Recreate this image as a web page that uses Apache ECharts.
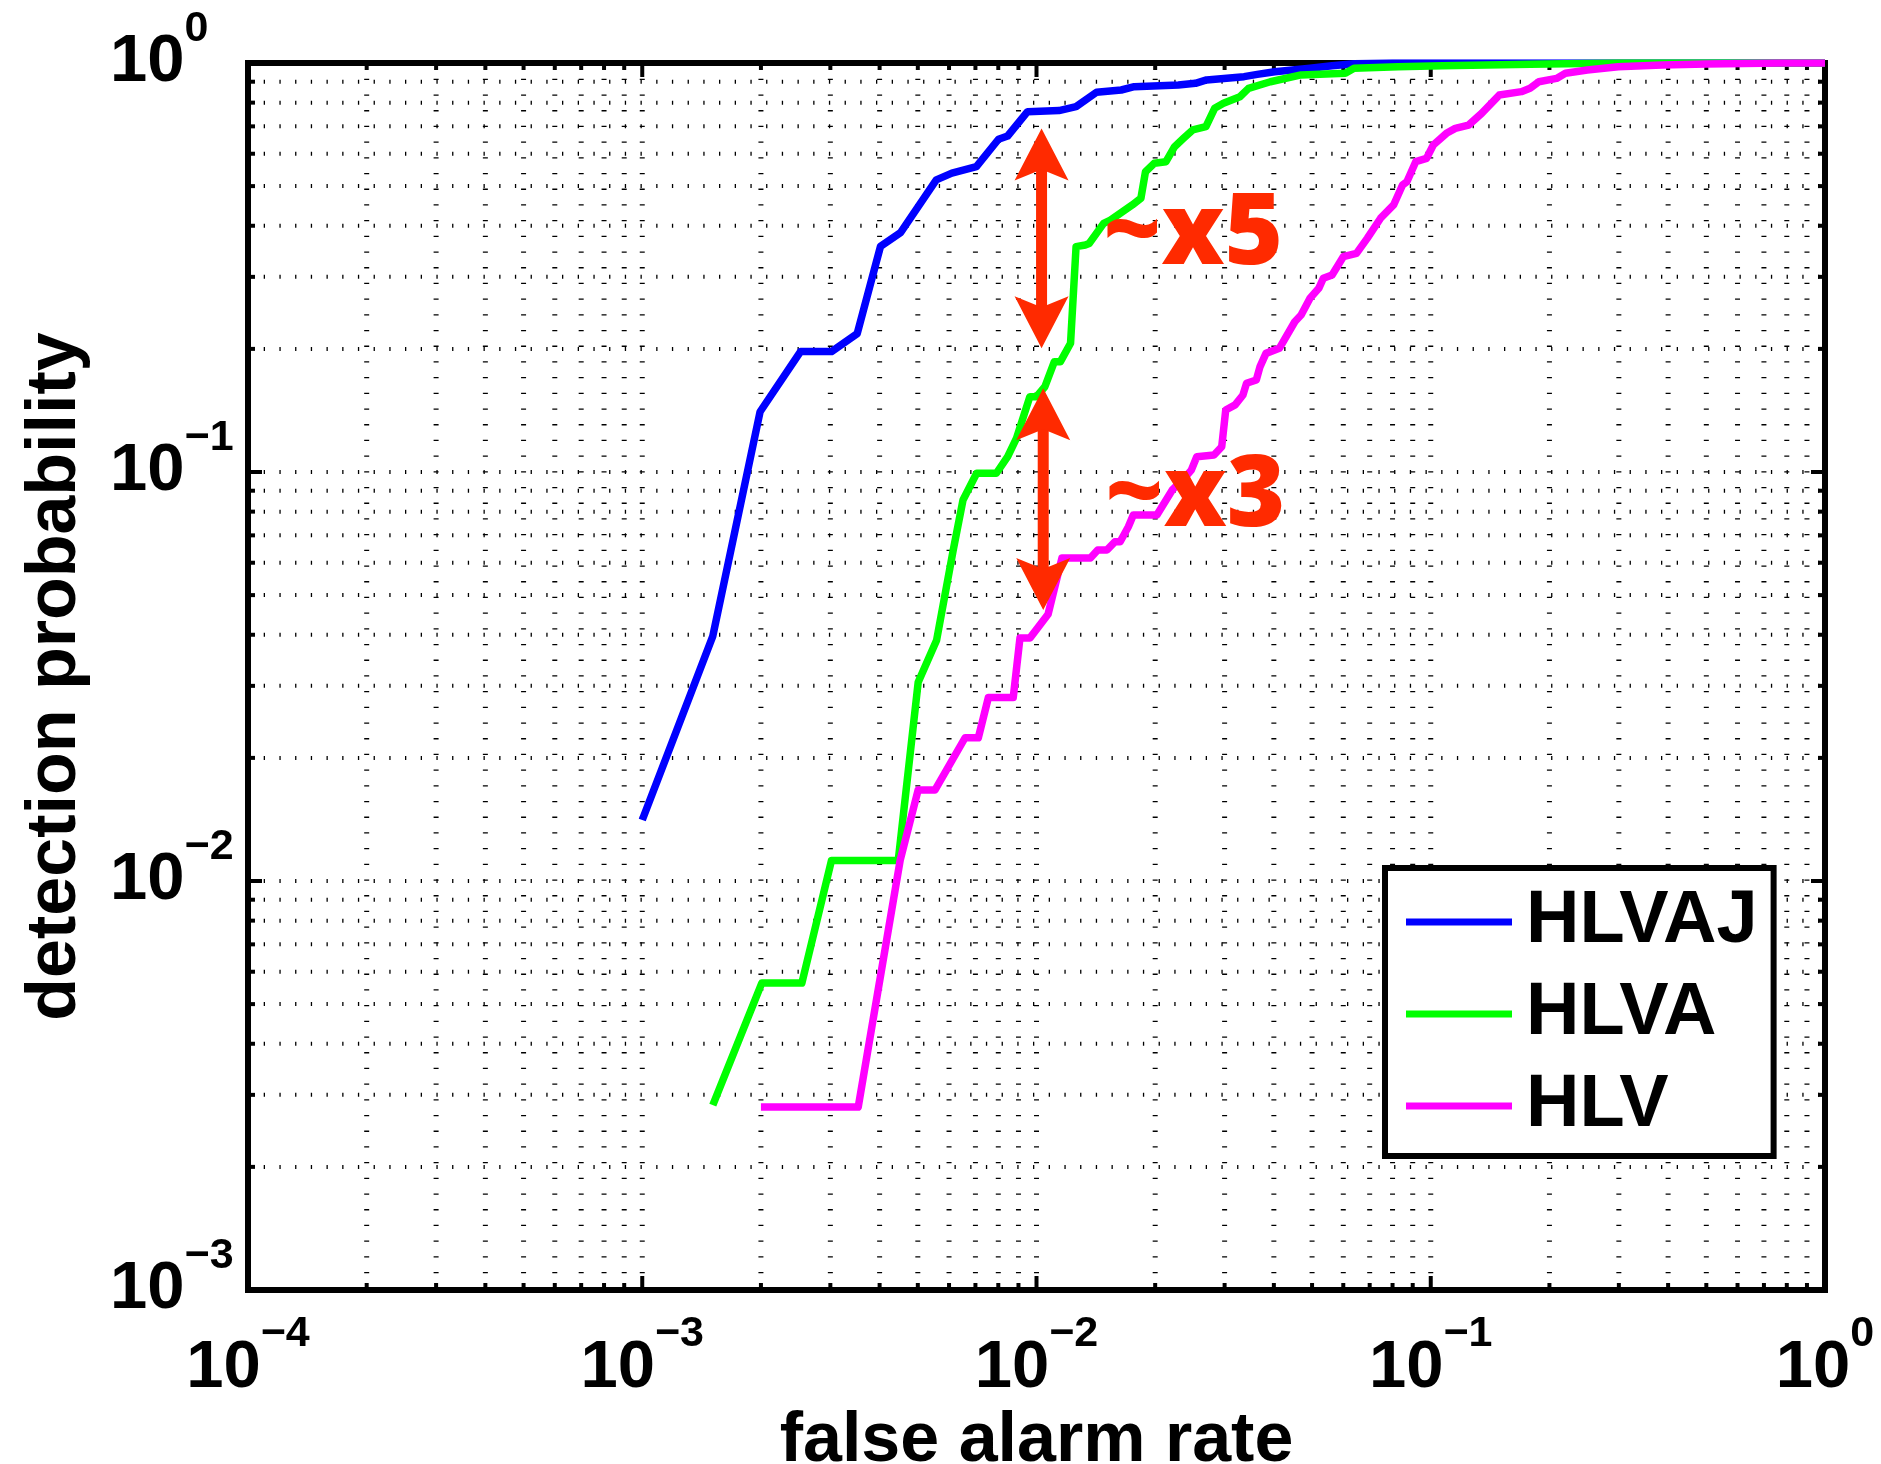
<!DOCTYPE html>
<html>
<head>
<meta charset="utf-8">
<title>ROC curves</title>
<script src="https://cdn.jsdelivr.net/npm/echarts@6/dist/echarts.min.js"></script>
<style>
  html, body { margin: 0; padding: 0; background: #ffffff; }
  #chart { width: 1881px; height: 1464px; }
</style>
</head>
<body>
<div id="chart"></div>
<script>
// Detection probability vs. false alarm rate for three feature sets (log-log ROC).
const seriesNames = ['HLVAJ', 'HLVA', 'HLV'];
const seriesColors = ['#0000ff', '#00ff00', '#ff00ff'];

// [false alarm rate, detection probability]
const hlvajCurve = [
  [0.00100, 0.0141], [0.00151, 0.0397], [0.00199, 0.1404], [0.00252, 0.197],
  [0.00302, 0.197], [0.00351, 0.218], [0.00402, 0.356], [0.00452, 0.385],
  [0.00557, 0.518], [0.00610, 0.538], [0.00704, 0.558], [0.00801, 0.651],
  [0.00845, 0.663], [0.00949, 0.760], [0.0114, 0.765], [0.0126, 0.782],
  [0.0142, 0.848], [0.0164, 0.859], [0.0177, 0.875], [0.0229, 0.884],
  [0.0253, 0.892], [0.0270, 0.909], [0.0336, 0.926], [0.0363, 0.938],
  [0.0402, 0.952], [0.0494, 0.971], [0.0562, 0.985], [0.0640, 0.996],
  [0.0800, 1.0], [1.0, 1.0]
];

const hlvaCurve = [
  [0.00151, 0.00283], [0.00201, 0.00563], [0.00254, 0.00563], [0.00302, 0.01123],
  [0.00446, 0.01123], [0.00501, 0.0306], [0.00558, 0.0388], [0.00615, 0.0645],
  [0.00651, 0.0854], [0.00705, 0.0993], [0.00791, 0.0993], [0.00845, 0.109],
  [0.00890, 0.121], [0.00962, 0.1528], [0.0100, 0.1528], [0.0105, 0.1616],
  [0.0111, 0.1861], [0.0115, 0.1861], [0.0122, 0.2064], [0.0126, 0.3556],
  [0.0133, 0.359], [0.0136, 0.362], [0.0148, 0.4055], [0.0154, 0.413],
  [0.0175, 0.4497], [0.0184, 0.467], [0.0189, 0.5424], [0.0199, 0.5686],
  [0.0213, 0.5738], [0.0224, 0.6244], [0.0236, 0.6544], [0.0249, 0.686],
  [0.0269, 0.699], [0.0283, 0.775], [0.0298, 0.797], [0.0328, 0.827],
  [0.0345, 0.867], [0.0392, 0.900], [0.0469, 0.935], [0.0607, 0.944],
  [0.0639, 0.971], [0.0826, 0.979], [0.107, 0.985], [0.179, 0.993],
  [0.300, 1.0], [1.0, 1.0]
];

const hlvCurve = [
  [0.00200, 0.0028], [0.00353, 0.0028], [0.00451, 0.01123], [0.00501, 0.0167],
  [0.00553, 0.0167], [0.00659, 0.0224], [0.00712, 0.0224], [0.00755, 0.0281],
  [0.00873, 0.0281], [0.00908, 0.0393], [0.00963, 0.0393], [0.0107, 0.0449],
  [0.0116, 0.0616], [0.0137, 0.0616], [0.0143, 0.0645], [0.0151, 0.0645],
  [0.0158, 0.0675], [0.0163, 0.0675], [0.0171, 0.0735], [0.0176, 0.0785],
  [0.0202, 0.0785], [0.0221, 0.0904], [0.0239, 0.0974], [0.0247, 0.1011],
  [0.0255, 0.109], [0.0282, 0.110], [0.0295, 0.1153], [0.0302, 0.1418],
  [0.0319, 0.1459], [0.0334, 0.1543], [0.0341, 0.1648], [0.0361, 0.1679],
  [0.0369, 0.181], [0.0382, 0.195], [0.0413, 0.2006], [0.0452, 0.233],
  [0.0469, 0.242], [0.0494, 0.266], [0.0520, 0.2812], [0.0534, 0.2976],
  [0.0562, 0.3032], [0.0600, 0.336], [0.0648, 0.3424], [0.0690, 0.3726],
  [0.0746, 0.4173], [0.0805, 0.4497], [0.0848, 0.5031], [0.0870, 0.5126],
  [0.0916, 0.5738], [0.0976, 0.5848], [0.1015, 0.630], [0.1096, 0.673],
  [0.1154, 0.692], [0.1247, 0.705], [0.1346, 0.753], [0.1492, 0.835],
  [0.1698, 0.851], [0.1786, 0.867], [0.188, 0.900], [0.2085, 0.917],
  [0.2196, 0.944], [0.2496, 0.961], [0.299, 0.979], [0.3865, 0.989],
  [0.4996, 0.994], [0.77, 1.0], [1.0, 1.0]
];

// decade exponents labelled on each axis
const xDecades = [-4, -3, -2, -1, 0];
const yDecades = [-3, -2, -1, 0];

// ratio annotations: double arrows [x, lower tip, upper tip] and their labels
const ratioArrows = [
  [0.0103, 0.2006, 0.692],
  [0.0104, 0.0460, 0.1602]
];
const ratioLabels = [
  { text: '~x5', x: 0.01470, y: 0.3787 },
  { text: '~x3', x: 0.01488, y: 0.0868 }
];

const FONT = '"Liberation Sans", Arial, Helvetica, sans-serif';
const ANNOT_FONT = '"Open Sans", "DejaVu Sans", sans-serif';
const RED = '#ff2a00';
const xMin = Math.pow(10, xDecades[0]), xMax = Math.pow(10, xDecades[xDecades.length - 1]);
const yMin = Math.pow(10, yDecades[0]), yMax = Math.pow(10, yDecades[yDecades.length - 1]);

// grid lines at 1..9 x 10^k for every decade
function logGridValues(decades) {
  const vals = [];
  for (let i = 0; i < decades.length - 1; i++) {
    const base = Math.pow(10, decades[i]);
    for (let m = 1; m <= 9; m++) vals.push([m * base, m === 1 ? 1 : 0]);
  }
  vals.push([Math.pow(10, decades[decades.length - 1]), 1]);
  return vals;
}
const xGrid = logGridValues(xDecades);
const yGrid = logGridValues(yDecades);

const TICK_MAJOR = 14, TICK_MINOR = 7;
const tickStyle = { stroke: '#000', lineWidth: 4 };

function powerLabel(v) {
  const e = Math.round(Math.log10(v));
  return '{b|10}{e|' + (e < 0 ? '\u2212' + (-e) : String(e)) + '}';
}
const labelRich = {
  b: { fontSize: 67, fontWeight: 'bold', color: '#000', fontFamily: FONT, lineHeight: 67, verticalAlign: 'middle' },
  e: { fontSize: 43, fontWeight: 'bold', color: '#000', fontFamily: FONT, verticalAlign: 'middle', padding: [0, 0, 68, 0] }
};

const chart = echarts.init(document.getElementById('chart'), null, { renderer: 'canvas' });

const lineSeries = [hlvajCurve, hlvaCurve, hlvCurve].map((curve, i) => ({
  name: seriesNames[i],
  type: 'line',
  data: curve,
  symbol: 'none',
  showSymbol: false,
  clip: true,
  z: 3,
  lineStyle: { width: 7.5, color: seriesColors[i], join: 'round' },
  itemStyle: { color: seriesColors[i] },
  animation: false
}));

const option = {
  backgroundColor: '#ffffff',
  animation: false,
  textStyle: { fontFamily: FONT },
  grid: {
    left: 248, right: 56, top: 63, bottom: 174,
    show: true, borderColor: '#000', borderWidth: 6, backgroundColor: 'transparent',
    containLabel: false, outerBoundsMode: 'none'
  },
  legend: {
    orient: 'vertical',
    left: 1385, top: 868,
    data: seriesNames.map(n => ({ name: n, icon: 'rect' })),
    itemWidth: 106, itemHeight: 7, itemGap: 18,
    padding: [17, 16, 13, 21],
    borderColor: '#000', borderWidth: 6, backgroundColor: '#fff',
    selectedMode: false,
    textStyle: { fontSize: 74, fontWeight: 'bold', color: '#000', fontFamily: FONT, lineHeight: 74, padding: [0, 0, 0, 9] }
  },
  xAxis: {
    type: 'log', logBase: 10, min: xMin, max: xMax,
    name: 'false alarm rate', nameLocation: 'middle', nameGap: 101,
    nameTextStyle: { fontSize: 70, fontWeight: 'bold', color: '#000', fontFamily: FONT },
    axisLine: { show: false }, axisTick: { show: false },
    splitLine: { show: false }, minorTick: { show: false }, minorSplitLine: { show: false },
    axisLabel: { interval: 0, margin: 23, showMinLabel: true, showMaxLabel: true, formatter: powerLabel, rich: labelRich }
  },
  yAxis: {
    type: 'log', logBase: 10, min: yMin, max: yMax,
    name: 'detection probability', nameLocation: 'middle', nameGap: 157,
    nameTextStyle: { fontSize: 70, fontWeight: 'bold', color: '#000', fontFamily: FONT },
    axisLine: { show: false }, axisTick: { show: false },
    splitLine: { show: false }, minorTick: { show: false }, minorSplitLine: { show: false },
    axisLabel: { interval: 0, margin: 138, align: 'left', showMinLabel: true, showMaxLabel: true, formatter: powerLabel, rich: labelRich }
  },
  series: [
    // vertical dotted grid + ticks on bottom and top edges
    {
      name: 'xgrid', type: 'custom', coordinateSystem: 'cartesian2d', z: 1, silent: true, animation: false,
      data: xGrid.map(g => [g[0], yMin, g[1]]),
      encode: { x: 0, y: 1 },
      renderItem: function (params, api) {
        const cs = params.coordSys;
        const px = api.coord([api.value(0), api.value(1)])[0];
        const len = api.value(2) === 1 ? TICK_MAJOR : TICK_MINOR;
        const top = cs.y, bottom = cs.y + cs.height;
        return {
          type: 'group',
          children: [
            { type: 'line', shape: { x1: px, y1: top, x2: px, y2: bottom },
              style: { stroke: '#000', lineWidth: 5, lineDash: [1.3, 14.4], lineCap: 'butt' } },
            { type: 'line', shape: { x1: px, y1: bottom, x2: px, y2: bottom - len }, style: tickStyle },
            { type: 'line', shape: { x1: px, y1: top, x2: px, y2: top + len }, style: tickStyle }
          ]
        };
      }
    },
    // horizontal dotted grid + ticks on left and right edges
    {
      name: 'ygrid', type: 'custom', coordinateSystem: 'cartesian2d', z: 1, silent: true, animation: false,
      data: yGrid.map(g => [xMin, g[0], g[1]]),
      encode: { x: 0, y: 1 },
      renderItem: function (params, api) {
        const cs = params.coordSys;
        const py = api.coord([api.value(0), api.value(1)])[1];
        const len = api.value(2) === 1 ? TICK_MAJOR : TICK_MINOR;
        const left = cs.x, right = cs.x + cs.width;
        return {
          type: 'group',
          children: [
            { type: 'line', shape: { x1: left, y1: py, x2: right, y2: py },
              style: { stroke: '#000', lineWidth: 4, lineDash: [1.3, 14.4], lineCap: 'butt' } },
            { type: 'line', shape: { x1: left, y1: py, x2: left + len, y2: py }, style: tickStyle },
            { type: 'line', shape: { x1: right, y1: py, x2: right - len, y2: py }, style: tickStyle }
          ]
        };
      }
    }
  ].concat(lineSeries, [
    // double-headed ratio arrows
    {
      name: 'ratioArrows', type: 'custom', coordinateSystem: 'cartesian2d', z: 5, silent: true, animation: false,
      data: ratioArrows,
      encode: { x: 0, y: [1, 2] },
      renderItem: function (params, api) {
        const lo = api.coord([api.value(0), api.value(1)]);
        const hi = api.coord([api.value(0), api.value(2)]);
        const cx = lo[0], yTop = hi[1], yBot = lo[1];
        const H = 52, W = 27, N = 41, S = 5.5;
        return {
          type: 'group',
          children: [
            { type: 'rect', shape: { x: cx - S, y: yTop + N - 2, width: 2 * S, height: (yBot - yTop) - 2 * N + 4 },
              style: { fill: RED } },
            { type: 'polygon', shape: { points: [[cx, yTop], [cx + W, yTop + H], [cx, yTop + N], [cx - W, yTop + H]] },
              style: { fill: RED } },
            { type: 'polygon', shape: { points: [[cx, yBot], [cx + W, yBot - H], [cx, yBot - N], [cx - W, yBot - H]] },
              style: { fill: RED } }
          ]
        };
      }
    },
    // ratio labels
    {
      name: 'ratioLabels', type: 'line', data: [], z: 5, animation: false,
      markPoint: {
        silent: true, animation: false,
        symbol: 'circle', symbolSize: 1,
        itemStyle: { color: 'rgba(0,0,0,0)' },
        label: {
          show: true, position: 'right', distance: 0,
          color: RED, fontSize: 100, fontWeight: 800, fontFamily: ANNOT_FONT
        },
        data: ratioLabels.map(a => ({ coord: [a.x, a.y], name: a.text, label: { formatter: a.text } }))
      }
    }
  ])
};

chart.setOption(option);
</script>
</body>
</html>
